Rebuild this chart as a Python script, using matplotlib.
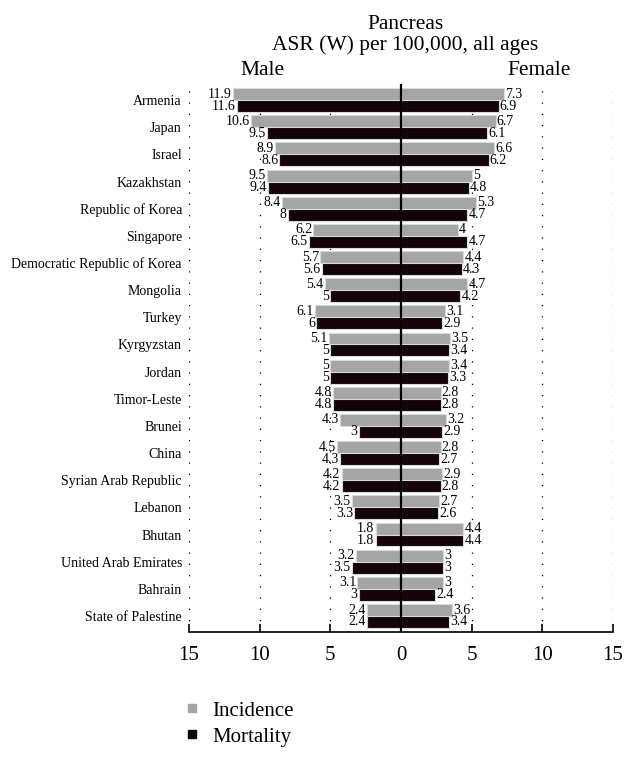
import numpy as np
import matplotlib.pyplot as plt
from matplotlib.lines import Line2D

plt.rcParams['font.family'] = ['Liberation Serif', 'DejaVu Serif']

countries = ['Armenia', 'Japan', 'Israel', 'Kazakhstan', 'Republic of Korea',
             'Singapore', 'Democratic Republic of Korea', 'Mongolia', 'Turkey',
             'Kyrgyzstan', 'Jordan', 'Timor-Leste', 'Brunei', 'China',
             'Syrian Arab Republic', 'Lebanon', 'Bhutan', 'United Arab Emirates',
             'Bahrain', 'State of Palestine']
male_inc = [11.9, 10.6, 8.9, 9.5, 8.4, 6.2, 5.7, 5.4, 6.1, 5.1, 5, 4.8, 4.3, 4.5, 4.2, 3.5, 1.8, 3.2, 3.1, 2.4]
male_mort = [11.6, 9.5, 8.6, 9.4, 8, 6.5, 5.6, 5, 6, 5, 5, 4.8, 3, 4.3, 4.2, 3.3, 1.8, 3.5, 3, 2.4]
female_inc = [7.3, 6.7, 6.6, 5, 5.3, 4, 4.4, 4.7, 3.1, 3.5, 3.4, 2.8, 3.2, 2.8, 2.9, 2.7, 4.4, 3, 3, 3.6]
female_mort = [6.9, 6.1, 6.2, 4.8, 4.7, 4.7, 4.3, 4.2, 2.9, 3.4, 3.3, 2.8, 2.9, 2.7, 2.8, 2.6, 4.4, 3, 2.4, 3.4]
ticks = [-15, -10, -5, 0, 5, 10, 15]

inc_col = '#a5a5a5'
mort_col = '#140307'
edge = '#d9d9d9'
serif = ['Liberation Serif', 'DejaVu Serif']

fig = plt.figure(figsize=(6.36, 7.62), dpi=100)
ax = fig.add_axes([0.297, 0.1706, 0.667, 0.719])

y = np.arange(len(countries))
h = 0.44
# incidence on top, mortality below
ax.barh(y - h/2, -np.array(male_inc), height=h, color=inc_col, edgecolor=edge, lw=0.8, zorder=3)
ax.barh(y + h/2, -np.array(male_mort), height=h, color=mort_col, edgecolor=edge, lw=0.8, zorder=3)
ax.barh(y - h/2, female_inc, height=h, color=inc_col, edgecolor=edge, lw=0.8, zorder=3)
ax.barh(y + h/2, female_mort, height=h, color=mort_col, edgecolor=edge, lw=0.8, zorder=3)

for i in range(len(countries)):
    ax.text(-male_inc[i] - 0.08, y[i] - h/2, f'{male_inc[i]:g}', ha='right', va='center', fontsize=10, zorder=4)
    ax.text(-male_mort[i] - 0.08, y[i] + h/2, f'{male_mort[i]:g}', ha='right', va='center', fontsize=10, zorder=4)
    ax.text(female_inc[i] + 0.08, y[i] - h/2, f'{female_inc[i]:g}', ha='left', va='center', fontsize=10, zorder=4)
    ax.text(female_mort[i] + 0.08, y[i] + h/2, f'{female_mort[i]:g}', ha='left', va='center', fontsize=10, zorder=4)

for t in ticks:
    if t != 0:
        ax.axvline(t, color='black', lw=0.9, ls=(0, (1, 8)), zorder=1)
ax.axvline(0, color='black', lw=1.6, zorder=5)

ax.set_xlim(-15, 15)
ax.set_ylim(len(countries) - 0.41, -0.59)
ax.set_xticks(ticks)
ax.set_xticklabels([str(abs(t)) for t in ticks], fontsize=15, family=serif)
ax.tick_params(axis='x', direction='in', length=6, width=1.2, pad=10)
ax.set_yticks(y)
ax.set_yticklabels(countries, fontsize=10, family=serif)
ax.tick_params(axis='y', length=0, pad=5)
for s in ['top', 'right', 'left']:
    ax.spines[s].set_visible(False)
ax.spines['bottom'].set_linewidth(1.2)

fig.text(0.637, 0.968, 'Pancreas', ha='center', va='center', fontsize=15.5, family=serif)
fig.text(0.637, 0.941, 'ASR (W) per 100,000, all ages', ha='center', va='center', fontsize=15.5, family=serif)
fig.text(0.412, 0.908, 'Male', ha='center', va='center', fontsize=15.5, family=serif)
fig.text(0.848, 0.908, 'Female', ha='center', va='center', fontsize=15.5, family=serif)

handles = [Line2D([], [], ls='', marker='s', markersize=6, color=inc_col),
           Line2D([], [], ls='', marker='s', markersize=6, color=mort_col)]
fig.legend(handles, ['Incidence', 'Mortality'], loc='center left',
           bbox_to_anchor=(0.285, 0.05), frameon=False,
           prop={'family': serif, 'size': 15},
           handlelength=1, handletextpad=0.5, labelspacing=0.3,
           borderpad=0, borderaxespad=0)

fig.savefig('out.png', dpi=100)
